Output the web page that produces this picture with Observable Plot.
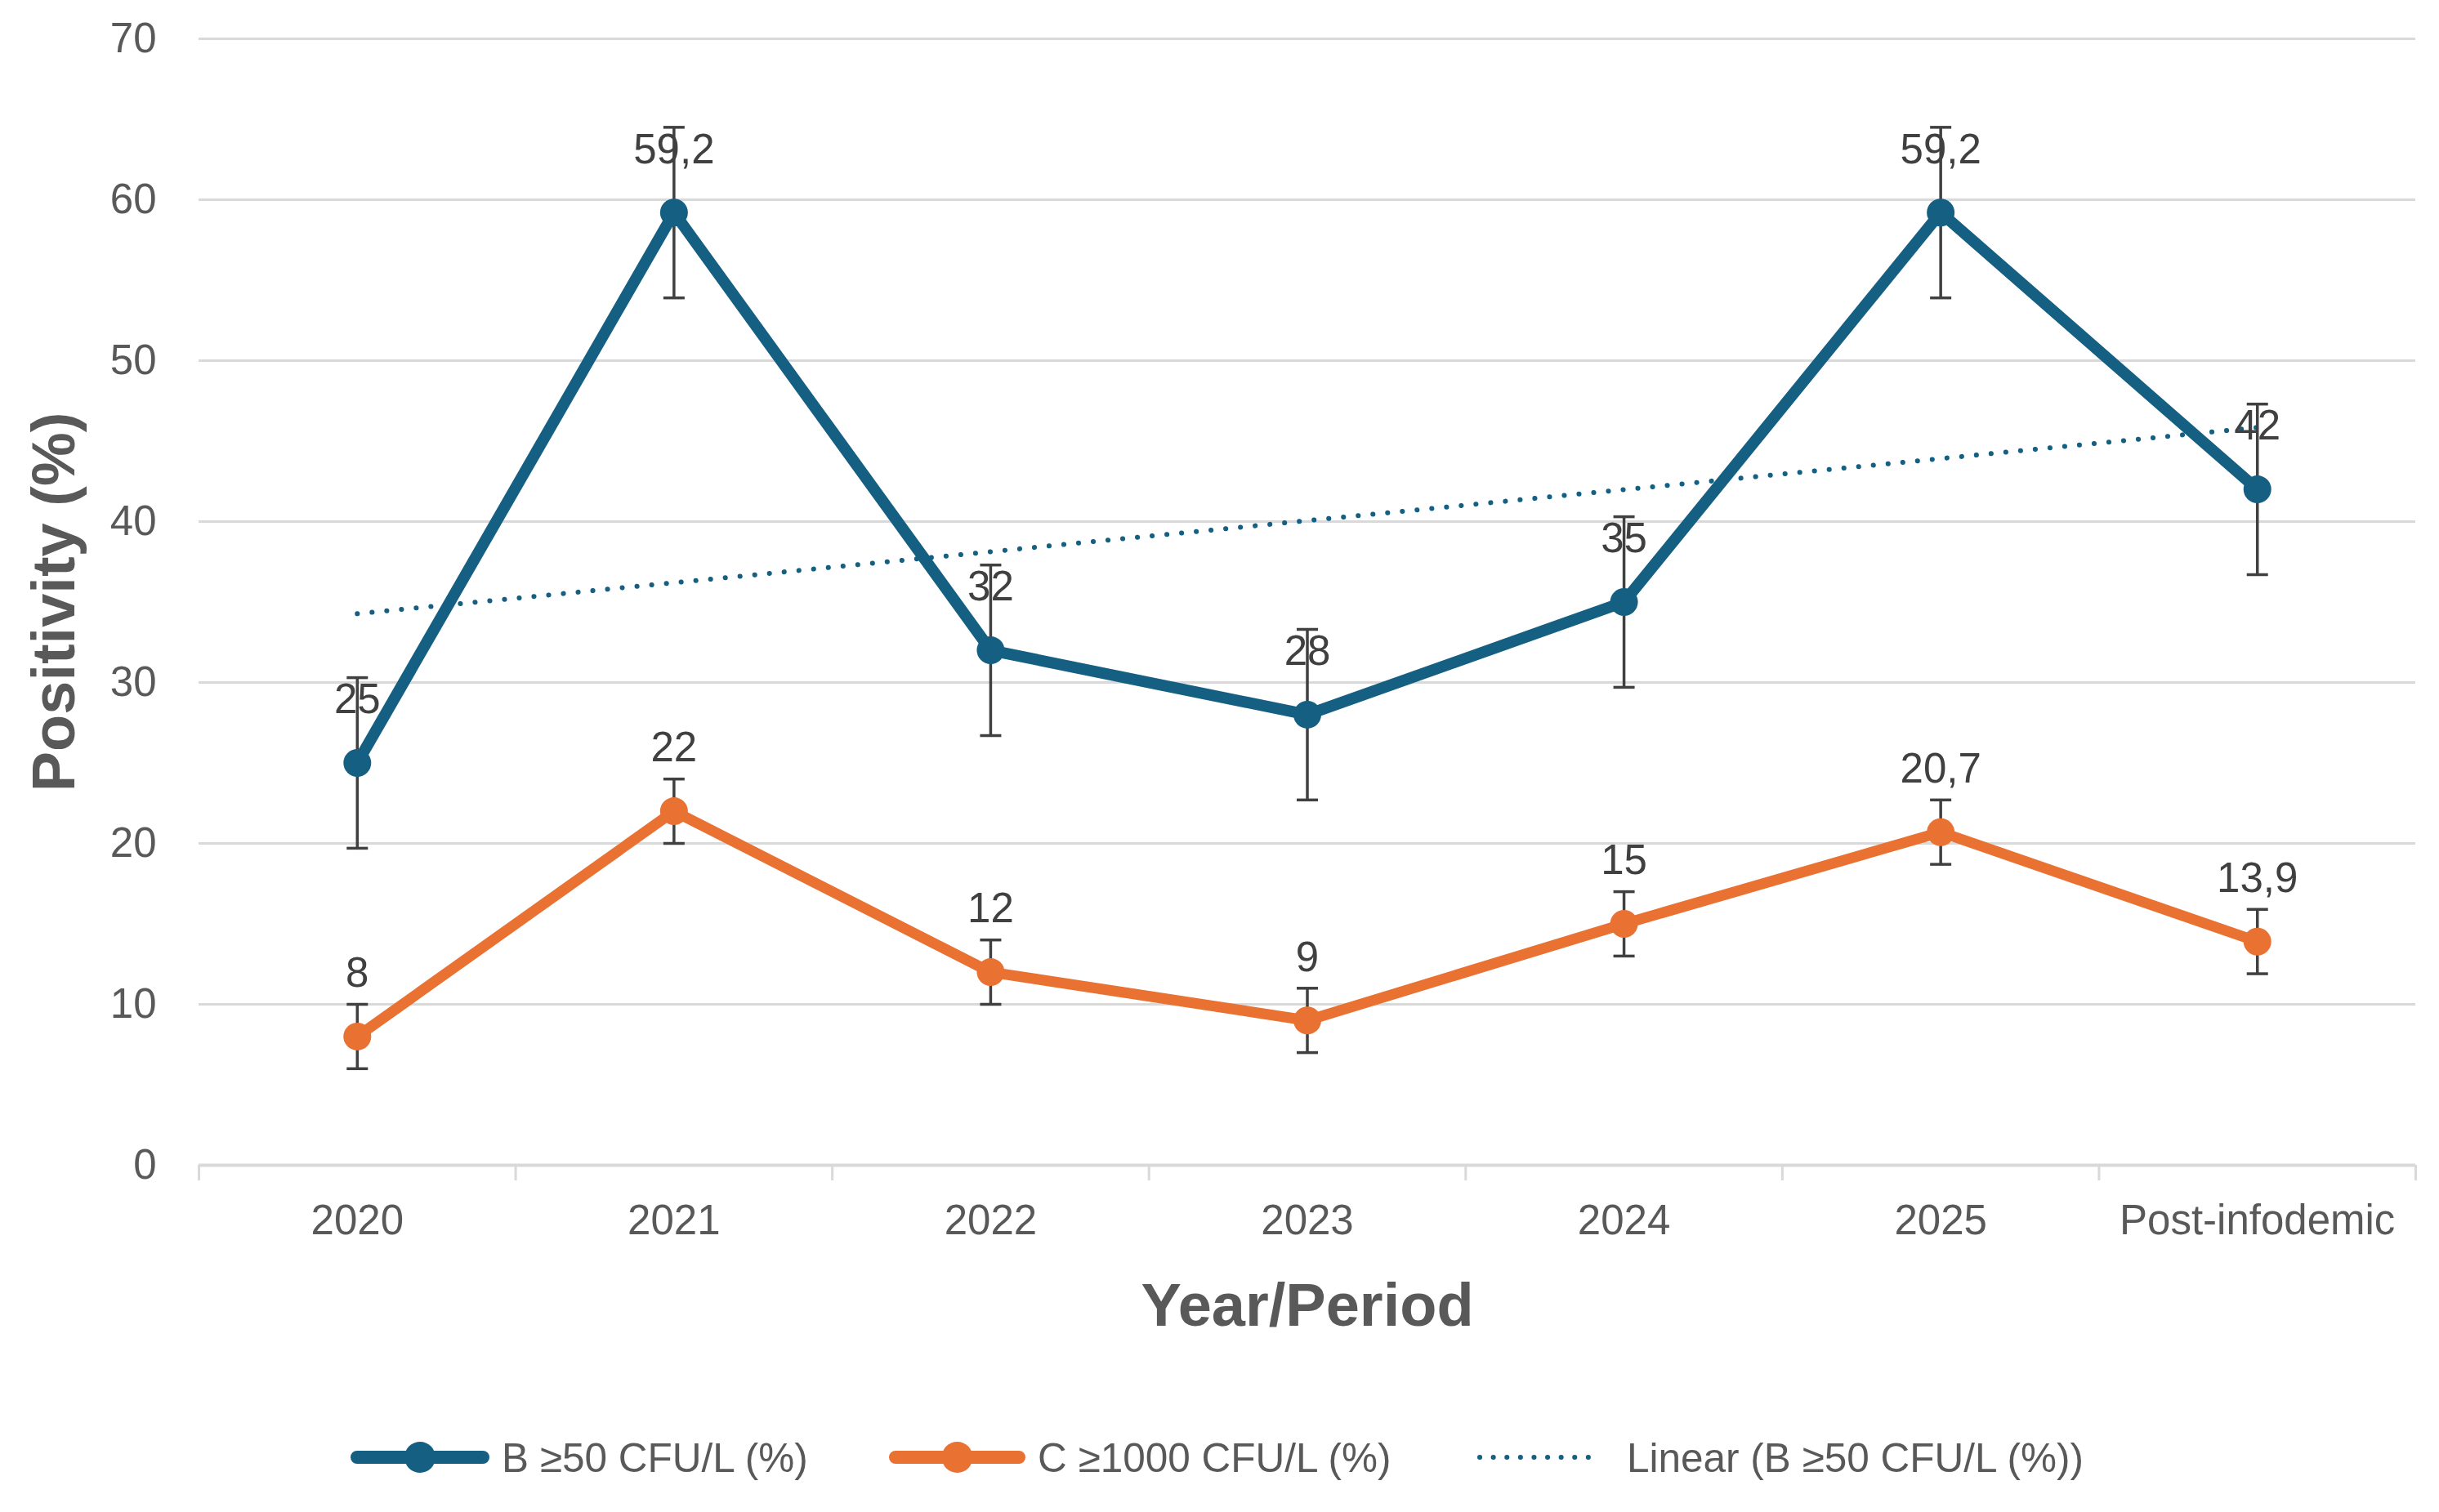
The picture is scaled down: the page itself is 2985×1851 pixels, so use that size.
<!DOCTYPE html>
<html>
<head>
<meta charset="utf-8">
<script src="https://cdn.jsdelivr.net/npm/d3@7"></script>
<script src="https://cdn.jsdelivr.net/npm/@observablehq/plot@0.6"></script>
<style>
  html, body { margin: 0; padding: 0; background: #ffffff; }
  body { width: 2985px; height: 1851px; position: relative; overflow: hidden; font-family: "Liberation Sans", Arial, sans-serif; }
  #chart { position: absolute; left: 0; top: 0; }
  #legend { position: absolute; left: 0; top: 1756px; width: 2985px; height: 56px; }
  .item { position: absolute; top: 0; height: 56px; display: flex; align-items: center; }
  .item span { font-size: 49.5px; color: #595959; margin-left: 15px; white-space: nowrap; }
</style>
</head>
<body>
<div id="chart"></div>
<div id="legend"></div>
<script>
// ---- data ----
const categories = ["2020", "2021", "2022", "2023", "2024", "2025", "Post-infodemic"];
const bValues = [25, 59.2, 32, 28, 35, 59.2, 42];
const bErrors = [5.3, 5.3, 5.3, 5.3, 5.3, 5.3, 5.3];
const cValues = [8, 22, 12, 9, 15, 20.7, 13.9];
const cErrors = [2, 2, 2, 2, 2, 2, 2];
const yTicks = [0, 10, 20, 30, 40, 50, 60, 70];
const seriesNames = ["B \u226550 CFU/L (%)", "C \u22651000 CFU/L (%)", "Linear (B \u226550 CFU/L (%))"];

const blue = "#156082";
const orange = "#E97132";
const textGray = "#595959";
const labelGray = "#404040";
const gridGray = "#D9D9D9";

const B = categories.map((c, i) => ({idx: i + 1, cat: c, v: bValues[i], e: bErrors[i]}));
const C = categories.map((c, i) => ({idx: i + 1, cat: c, v: cValues[i], e: cErrors[i]}));
const boundaries = d3.range(0, categories.length + 1).map(i => i + 0.5);
const fmt = v => String(v).replace(".", ",");

const capSymbol = {
  draw(context, size) {
    const w = Math.sqrt(size / Math.PI);
    context.moveTo(-w, 0);
    context.lineTo(w, 0);
  }
};

function errorMarks(data) {
  return [
    Plot.ruleX(data, {x: "idx", y1: d => d.v - d.e, y2: d => d.v + d.e, stroke: labelGray, strokeWidth: 3.5}),
    Plot.dot(data, {x: "idx", y: d => d.v + d.e, symbol: capSymbol, r: 13, fill: "none", stroke: labelGray, strokeWidth: 3.5}),
    Plot.dot(data, {x: "idx", y: d => d.v - d.e, symbol: capSymbol, r: 13, fill: "none", stroke: labelGray, strokeWidth: 3.5})
  ];
}

const chart = Plot.plot({
  width: 2985,
  height: 1700,
  marginLeft: 243,
  marginRight: 29,
  marginTop: 47,
  marginBottom: 274,
  style: {fontFamily: "'Liberation Sans', Arial, sans-serif", fontSize: "51px", color: textGray, background: "#ffffff"},
  x: {domain: [0.5, categories.length + 0.5], type: "linear"},
  y: {domain: [0, 70]},
  marks: [
    Plot.ruleY(yTicks.filter(t => t > 0), {stroke: gridGray, strokeWidth: 3}),
    Plot.ruleY([0], {stroke: gridGray, strokeWidth: 4}),
    Plot.axisX({ticks: boundaries, tickSize: 19, tickFormat: () => "", stroke: gridGray, strokeWidth: 3, label: null}),
    Plot.axisX({ticks: d3.range(1, categories.length + 1), tickSize: 0, tickPadding: 48, tickFormat: i => categories[i - 1], fontSize: 51, fill: textGray, label: null}),
    Plot.axisY({ticks: yTicks, tickSize: 0, tickPadding: 52, fontSize: 51, fill: textGray, label: null}),
    Plot.text(["Year/Period"], {frameAnchor: "bottom", dy: 173, lineAnchor: "middle", textAnchor: "middle", fontSize: 74, fontWeight: "bold", fill: textGray}),
    Plot.text(["Positivity (%)"], {frameAnchor: "left", dx: -176, rotate: -90, lineAnchor: "middle", textAnchor: "middle", fontSize: 74, fontWeight: "bold", fill: textGray}),
    Plot.linearRegressionY(B, {x: "idx", y: "v", ci: 0, stroke: blue, strokeWidth: 6, strokeDasharray: "0.1 18", strokeLinecap: "round"}),
    Plot.line(B, {x: "idx", y: "v", stroke: blue, strokeWidth: 14, strokeLinejoin: "round"}),
    Plot.line(C, {x: "idx", y: "v", stroke: orange, strokeWidth: 13, strokeLinejoin: "round"}),
    Plot.text(B, {x: "idx", y: "v", text: d => fmt(d.v), dy: -77, fontSize: 51, fill: labelGray}),
    Plot.text(C, {x: "idx", y: "v", text: d => fmt(d.v), dy: -77, fontSize: 51, fill: labelGray}),
    ...errorMarks(B),
    ...errorMarks(C),
    Plot.dot(B, {x: "idx", y: "v", r: 17, fill: blue}),
    Plot.dot(C, {x: "idx", y: "v", r: 17, fill: orange})
  ]
});
document.getElementById("chart").append(chart);

// ---- legend ----
const legend = document.getElementById("legend");
const items = [
  {name: seriesNames[0], color: blue, kind: "line", left: 429, w: 170},
  {name: seriesNames[1], color: orange, kind: "line", left: 1088, w: 167},
  {name: seriesNames[2], color: blue, kind: "dots", left: 1808, w: 150}
];
items.forEach(it => {
  const div = document.createElement("div");
  div.className = "item";
  div.style.left = it.left + "px";
  const ns = "http://www.w3.org/2000/svg";
  const svg = document.createElementNS(ns, "svg");
  svg.setAttribute("width", it.w);
  svg.setAttribute("height", 56);
  const ln = document.createElementNS(ns, "line");
  ln.setAttribute("x1", it.kind === "line" ? 8 : 3);
  ln.setAttribute("x2", it.w - (it.kind === "line" ? 8 : 3));
  ln.setAttribute("y1", 28);
  ln.setAttribute("y2", 28);
  ln.setAttribute("stroke", it.color);
  ln.setAttribute("stroke-linecap", "round");
  if (it.kind === "line") {
    ln.setAttribute("stroke-width", 16);
    svg.append(ln);
    const c = document.createElementNS(ns, "circle");
    c.setAttribute("cx", it.w / 2);
    c.setAttribute("cy", 28);
    c.setAttribute("r", 19);
    c.setAttribute("fill", it.color);
    svg.append(c);
  } else {
    ln.setAttribute("stroke-width", 6);
    ln.setAttribute("stroke-dasharray", "0.1 16.5");
    svg.append(ln);
  }
  div.append(svg);
  const sp = document.createElement("span");
  sp.textContent = it.name;
  if (it.kind === "dots") sp.style.marginLeft = "33px";
  div.append(sp);
  legend.append(div);
});
</script>
</body>
</html>
